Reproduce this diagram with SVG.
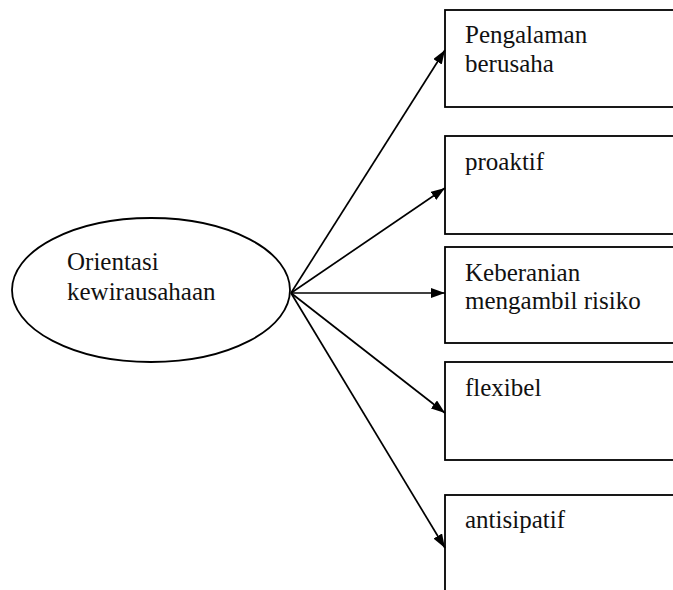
<svg xmlns="http://www.w3.org/2000/svg" width="673" height="590" viewBox="0 0 673 590">
  <style>
    .shape { fill: #ffffff; stroke: #000000; stroke-width: 1.8; }
    .label { font-family: "Liberation Serif", "Times New Roman", serif; font-size: 25px; fill: #111111; }
    .edge { stroke: #000000; stroke-width: 1.7; fill: none; marker-end: url(#arrow); }
  </style>
  <defs>
    <marker id="arrow" viewBox="0 0 14 10" refX="14" refY="5" markerWidth="14" markerHeight="10" markerUnits="userSpaceOnUse" orient="auto">
      <path d="M0,0 L14,5 L0,10 Z" fill="#000000"/>
    </marker>
  </defs>
  <rect width="673" height="590" fill="#ffffff"/>

  <g id="orientasi">
    <ellipse class="shape" cx="151" cy="290" rx="139" ry="72"/>
    <text class="label" x="67" y="270">Orientasi</text>
    <text class="label" x="67" y="300">kewirausahaan</text>
  </g>

  <g id="pengalaman">
    <rect class="shape" x="445" y="10" width="240" height="97"/>
    <text class="label" x="465" y="43">Pengalaman</text>
    <text class="label" x="465" y="72">berusaha</text>
  </g>

  <g id="proaktif">
    <rect class="shape" x="445" y="136" width="240" height="98"/>
    <text class="label" x="465" y="170">proaktif</text>
  </g>

  <g id="keberanian">
    <rect class="shape" x="445" y="247" width="240" height="96"/>
    <text class="label" x="465" y="281">Keberanian</text>
    <text class="label" x="465" y="309">mengambil risiko</text>
  </g>

  <g id="flexibel">
    <rect class="shape" x="445" y="362" width="240" height="98"/>
    <text class="label" x="465" y="396">flexibel</text>
  </g>

  <g id="antisipatif">
    <rect class="shape" x="445" y="495" width="240" height="110"/>
    <text class="label" x="465" y="528">antisipatif</text>
  </g>

  <g id="connectors">
    <line class="edge" x1="291" y1="293" x2="445" y2="50"/>
    <line class="edge" x1="291" y1="293" x2="445" y2="188"/>
    <line class="edge" x1="291" y1="293" x2="445" y2="293"/>
    <line class="edge" x1="291" y1="293" x2="445" y2="413"/>
    <line class="edge" x1="291" y1="293" x2="445" y2="548"/>
  </g>
</svg>
